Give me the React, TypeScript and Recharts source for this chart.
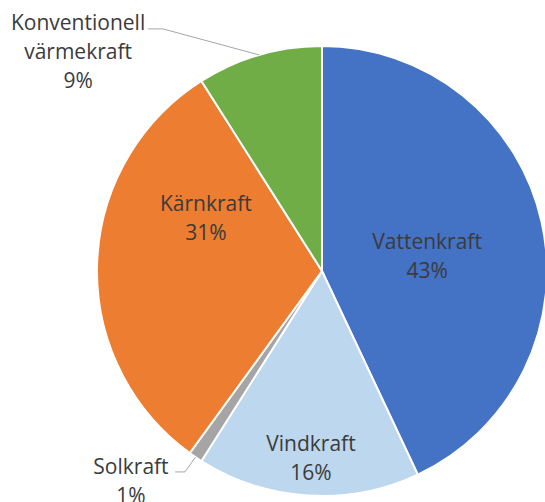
import React from 'react';
import { PieChart, Pie, Cell } from 'recharts';

const categories = ['Vattenkraft', 'Vindkraft', 'Solkraft', 'Kärnkraft', 'Konventionell värmekraft'];
const shares = [43, 16, 1, 31, 9];
const colors = ['#4472C4', '#BDD7EE', '#A5A5A5', '#ED7D31', '#70AD47'];

const data = categories.map((name, i) => ({ name, value: shares[i] }));

// label placement, as fractions of the outer radius from the pie centre
const placement: { x: number; y: number; leader?: [number, number][] }[] = [
  { x: 0.467, y: -0.071 },
  { x: -0.049, y: 0.827 },
  { x: -0.849, y: 0.929, leader: [[-0.609, 0.893], [-0.653, 0.893]] },
  { x: -0.516, y: -0.24 },
  { x: -1.084, y: -0.978, leader: [[-0.707, -1.076], [-0.773, -1.076]] },
];

const LINE_H = 29;
const RAD = Math.PI / 180;

const renderLabel = (props: any) => {
  const { cx, cy, outerRadius, midAngle, index } = props;
  const p = placement[index];
  const x = cx + p.x * outerRadius;
  const y = cy + p.y * outerRadius;
  const words = categories[index].split(' ');
  const lines = [...words, `${shares[index]}%`];
  const top = y - ((lines.length - 1) * LINE_H) / 2;

  let leader = null;
  if (p.leader) {
    const ex = cx + outerRadius * Math.cos(-midAngle * RAD);
    const ey = cy + outerRadius * Math.sin(-midAngle * RAD);
    const pts = [[ex, ey], ...p.leader.map(([a, b]) => [cx + a * outerRadius, cy + b * outerRadius])];
    leader = (
      <polyline
        points={pts.map((q) => q.join(',')).join(' ')}
        fill="none"
        stroke="#A6A6A6"
        strokeWidth={1}
      />
    );
  }

  return (
    <g key={`label-${index}`}>
      {leader}
      {lines.map((t, i) => (
        <text
          key={i}
          x={x}
          y={top + i * LINE_H}
          textAnchor="middle"
          dominantBaseline="central"
          fill="#3B3B3B"
          fontSize={21}
          fontFamily="'Open Sans', sans-serif"
        >
          {t}
        </text>
      ))}
    </g>
  );
};

const App: React.FC = () => {
  return (
    <div style={{ position: 'absolute', left: 0, top: 0, width: 545, height: 502, background: '#fff' }}>
      <PieChart width={545} height={502} margin={{ top: 0, right: 0, bottom: 0, left: 0 }}>
        <Pie
          data={data}
          dataKey="value"
          nameKey="name"
          cx={322}
          cy={271}
          outerRadius={225}
          startAngle={90}
          endAngle={-270}
          stroke="#ffffff"
          strokeWidth={2}
          label={renderLabel}
          labelLine={false}
          isAnimationActive={false}
        >
          {data.map((entry, index) => (
            <Cell key={`cell-${index}`} fill={colors[index]} />
          ))}
        </Pie>
      </PieChart>
    </div>
  );
};

export default App;
